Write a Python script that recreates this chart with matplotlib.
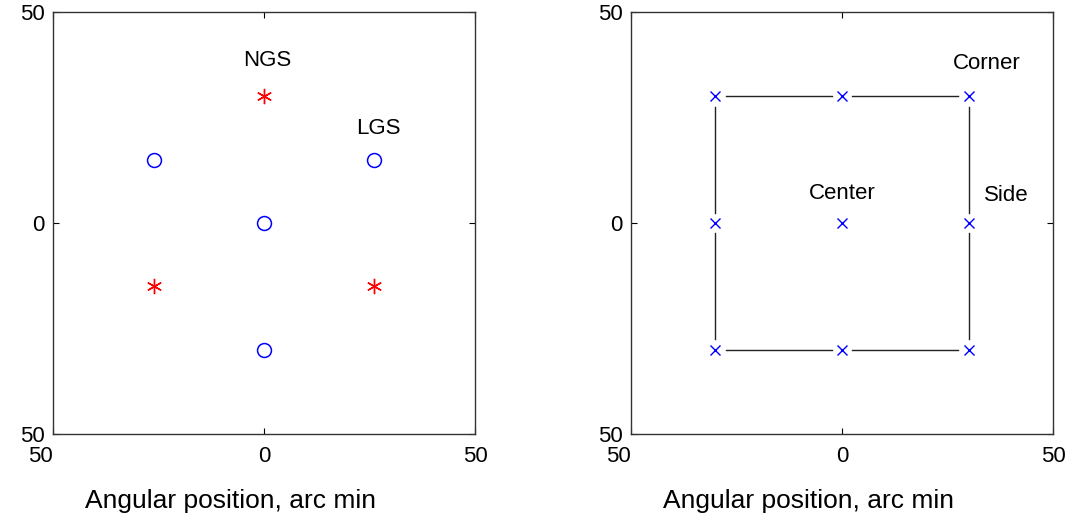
import numpy as np
import matplotlib.pyplot as plt

plt.rcParams['font.family'] = ['Liberation Sans', 'DejaVu Sans']

# left panel: guide stars (arc min)
lgs_x = [0, 26, -26, 0]
lgs_y = [0, 15, 15, -30]
ngs_x = [0, -26, 26]
ngs_y = [30, -15, -15]

# right panel: evaluation points, perimeter in order + center
sq_x = [-30, 0, 30, 30, 30, 0, -30, -30]
sq_y = [30, 30, 30, 0, -30, -30, -30, 0]
center_x = [0]
center_y = [0]

ticks = [-50, 0, 50]
tick_labels = ['50', '0', '50']
gap = 2.4

fig = plt.figure(figsize=(10.75, 5.24), dpi=100)
ax1 = fig.add_axes([53 / 1075, 90 / 524, 422 / 1075, 422 / 524])
ax2 = fig.add_axes([631 / 1075, 90 / 524, 422 / 1075, 422 / 524])

# left
ax1.plot(lgs_x, lgs_y, 'o', ms=10, mfc='none', mec='b', mew=1.1, ls='none')
ax1.plot(ngs_x, ngs_y, marker=(6, 2, 0), ms=11, color='r', mew=1.0, ls='none')
ax1.text(0.7, 38.5, 'NGS', fontsize=16, ha='center', va='center')
ax1.text(27.2, 22.3, 'LGS', fontsize=16, ha='center', va='center')

# right: square outline with gaps around the markers
n = len(sq_x)
for i in range(n):
    x0, y0 = sq_x[i], sq_y[i]
    x1, y1 = sq_x[(i + 1) % n], sq_y[(i + 1) % n]
    d = np.hypot(x1 - x0, y1 - y0)
    ux, uy = (x1 - x0) / d, (y1 - y0) / d
    ax2.plot([x0 + gap * ux, x1 - gap * ux], [y0 + gap * uy, y1 - gap * uy],
             color='#222222', lw=1.0)
ax2.plot(sq_x + center_x, sq_y + center_y, 'x', ms=7, color='b', mew=1.0, ls='none')
ax2.text(34.4, 37.7, 'Corner', fontsize=16, ha='center', va='center')
ax2.text(0, 7.1, 'Center', fontsize=16, ha='center', va='center')
ax2.text(38.9, 6.6, 'Side', fontsize=16, ha='center', va='center')

for ax in (ax1, ax2):
    ax.set_xlim(-50, 50)
    ax.set_ylim(-50, 50)
    ax.set_xticks(ticks)
    ax.set_yticks(ticks)
    ax.set_xticklabels(tick_labels, fontsize=16)
    ax.set_yticklabels(tick_labels, fontsize=16)
    ax.tick_params(direction='in', length=4, width=0.8, top=True, right=True,
                   labeltop=False, labelright=False)
    ax.tick_params(axis='x', pad=9)
    ax.tick_params(axis='y', pad=6)
    ax.get_xticklabels()[0].set_ha('right')
    for s in ax.spines.values():
        s.set_color('#333333')
        s.set_linewidth(1.0)
    ax.set_xlabel('Angular position, arc min', fontsize=19)
    ax.xaxis.set_label_coords(0.42, -0.13)

fig.savefig('out.png', dpi=100)
